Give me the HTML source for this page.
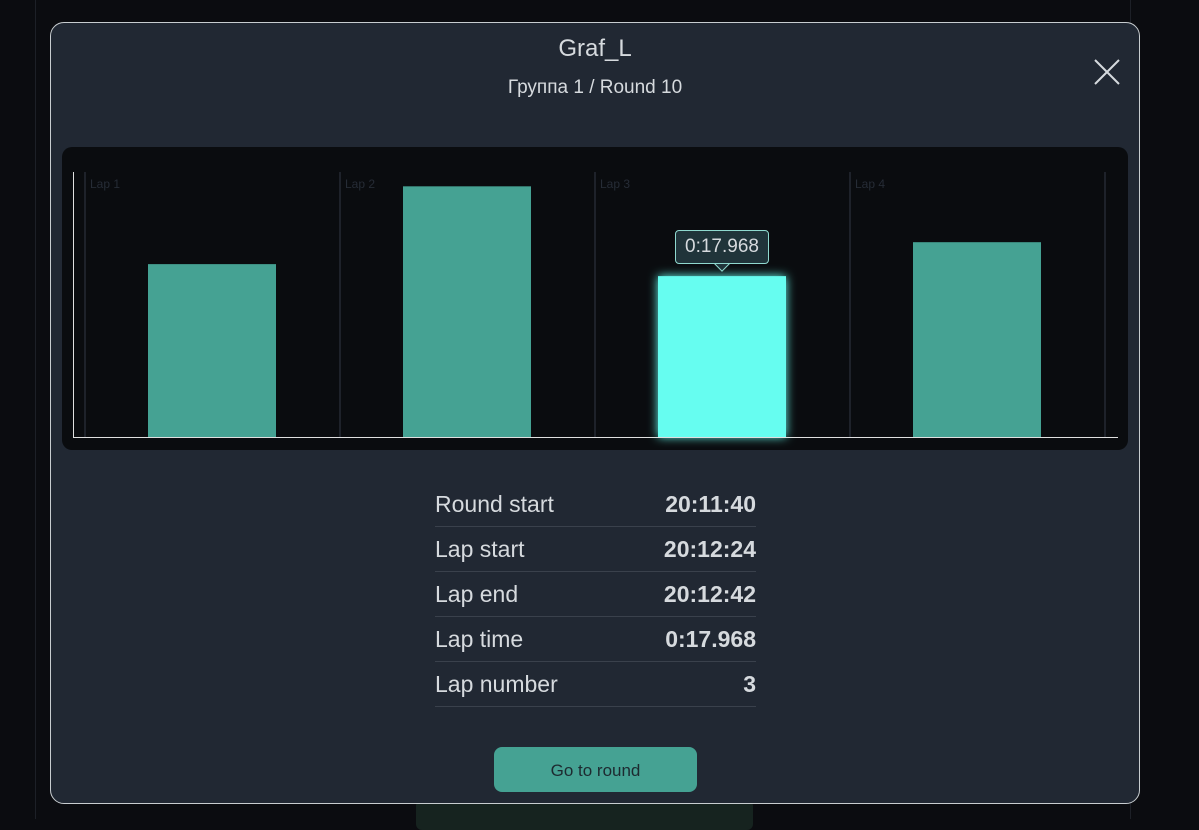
<!DOCTYPE html>
<html><head><meta charset="utf-8"><style>
body{margin:0;width:1199px;height:819px;background:#0b0c10;overflow:hidden;font-family:"Liberation Sans","Noto Sans CJK SC",sans-serif;position:relative}
.abs{position:absolute}
</style></head><body>
<div class="abs" style="left:35px;top:0;width:1px;height:819px;background:#1d2027"></div>
<div class="abs" style="left:1130px;top:0;width:1px;height:819px;background:#1d2027"></div>
<div class="abs" style="left:416px;top:800px;width:337px;height:30px;background:#16231f;border-radius:6px"></div>
<div class="abs" style="left:50px;top:22px;width:1088px;height:780px;background:#212833;border:1px solid #c8cdd0;border-radius:14px">
 <div class="abs" style="left:0;width:1088px;top:12px;text-align:center;color:#d6dade;font-size:24px">Graf_L</div>
 <div class="abs" style="left:0;width:1088px;top:54px;text-align:center;color:#d6dade;font-size:19px">Группа 1 / Round 10</div>
 <svg class="abs" style="left:1042px;top:35px" width="28" height="28"><path d="M2 2L26 26M26 2L2 26" stroke="#d6dade" stroke-width="2"/></svg>
</div>
<div class="abs" style="left:62px;top:147px;width:1066px;height:303px;background:#0a0c0f;border-radius:10px"></div>
<svg class="abs" id="chart" style="left:0;top:0" width="1199" height="819">
<defs><filter id="glow" x="-30%" y="-30%" width="160%" height="160%"><feGaussianBlur stdDeviation="5" result="b"/><feMerge><feMergeNode in="b"/><feMergeNode in="SourceGraphic"/></feMerge></filter></defs>
</svg>
<div class="abs" id="tip" style="left:674px;top:230px;width:92px;height:32px;border:1px solid #8fd9cf;border-radius:4px;background:#20343a;color:#d6dade;font-size:19px;line-height:32px;text-align:center">0:17.968</div>
<div class="abs" style="left:435px;top:482px;width:321px;color:#d6dade;font-size:23px">
 <div style="height:44px;border-bottom:1px solid #3a414c;display:flex;justify-content:space-between;align-items:center"><span>Round start</span><b>20:11:40</b></div>
 <div style="height:44px;border-bottom:1px solid #3a414c;display:flex;justify-content:space-between;align-items:center"><span>Lap start</span><b>20:12:24</b></div>
 <div style="height:44px;border-bottom:1px solid #3a414c;display:flex;justify-content:space-between;align-items:center"><span>Lap end</span><b>20:12:42</b></div>
 <div style="height:44px;border-bottom:1px solid #3a414c;display:flex;justify-content:space-between;align-items:center"><span>Lap time</span><b>0:17.968</b></div>
 <div style="height:44px;border-bottom:1px solid #3a414c;display:flex;justify-content:space-between;align-items:center"><span>Lap number</span><b>3</b></div>
</div>
<div class="abs" style="left:494px;top:747px;width:203px;height:45px;background:#45a293;border-radius:8px;color:#1d2a30;font-size:17px;line-height:47px;text-align:center">Go to round</div>
<script>
const categories=["Lap 1","Lap 2","Lap 3","Lap 4"];
const values=[19.31,28.0,17.97,21.76];
const selected=[false,false,true,false];
const yMax=29.6;
const svg=document.getElementById('chart');
const NS='http://www.w3.org/2000/svg';
const x0=85,bandW=255,plotTop=172,plotBottom=437;
function y(v){return plotBottom-(v/yMax)*(plotBottom-plotTop);}
function mk(t,a){const e=document.createElementNS(NS,t);for(const k in a)e.setAttribute(k,a[k]);svg.appendChild(e);return e;}
for(let i=0;i<=categories.length;i++){
 const g=mk('line',{x1:x0+i*bandW,x2:x0+i*bandW,y1:plotTop,y2:plotBottom,stroke:'#252a33','stroke-width':1.5});
 
 
}
categories.forEach((c,i)=>{
 const t=mk('text',{x:x0+i*bandW+5,y:188,fill:'#262c36','font-size':12,'font-family':'Liberation Sans'});
 t.textContent=c;
 
 
 const bx=x0+i*bandW+63;
 const r=mk('rect',{x:bx,y:y(values[i]),width:128,height:plotBottom-y(values[i]),fill:selected[i]?'#66fdf0':'#45a293'});
 if(selected[i])r.setAttribute('filter','url(#glow)');
 
 
 if(selected[i]){
  const tip=document.getElementById('tip');
  tip.style.left=(bx+64-47)+'px';tip.style.top=(y(values[i])-46)+'px';
  const p=mk('path',{d:`M${bx+56} ${y(values[i])-13}L${bx+64} ${y(values[i])-5}L${bx+72} ${y(values[i])-13}`,fill:'#20343a',stroke:'#8fd9cf'});
  
  
 }
});
const ya=mk('line',{x1:73.5,x2:73.5,y1:plotTop,y2:plotBottom,stroke:'#e0e0e0','stroke-width':1});


const xa=mk('line',{x1:73,x2:1118,y1:plotBottom+0.5,y2:plotBottom+0.5,stroke:'#e0e0e0','stroke-width':1});


</script>
</body></html>
